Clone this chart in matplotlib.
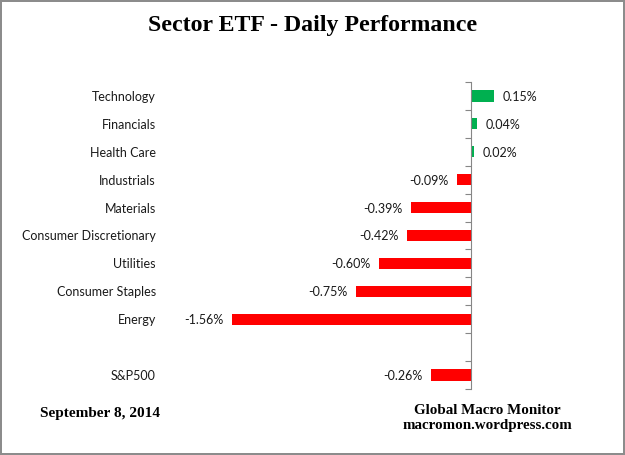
import numpy as np
import matplotlib
matplotlib.use("Agg")
import matplotlib.pyplot as plt

# data (percent change for the day)
sectors = ["Technology", "Financials", "Health Care", "Industrials", "Materials",
           "Consumer Discretionary", "Utilities", "Consumer Staples", "Energy"]
sector_changes = [0.15, 0.04, 0.02, -0.09, -0.39, -0.42, -0.60, -0.75, -1.56]
index_name = "S&P500"
index_change = -0.26

labels = sectors + ["", index_name]
values = sector_changes + [np.nan, index_change]
pos = np.arange(len(labels))

green = "#00B050"
red = "#FF0000"
axis_grey = "#868686"

fig = plt.figure(figsize=(6.25, 4.55), dpi=100)
fig.patch.set_edgecolor("#8c8c8c")
fig.patch.set_linewidth(1.5)

W, H = 625, 455
x_zero, px_per_pct = 471, 153.0
xmin, xmax = -2.0, 0.85
left_px = x_zero + xmin * px_per_pct
right_px = x_zero + xmax * px_per_pct
top_px, bot_px = 82, 389
ax = fig.add_axes([left_px / W, 1 - bot_px / H, (right_px - left_px) / W, (bot_px - top_px) / H])

vals = np.array(values, dtype=float)
colors = [green if v >= 0 else red for v in np.nan_to_num(vals)]
ax.barh(pos, np.nan_to_num(vals), height=0.4, color=colors, zorder=2)

ax.set_xlim(xmin, xmax)
ax.set_ylim(len(labels) - 0.5, -0.5)

# category axis drawn at zero, tick marks between categories pointing left
for name in ["top", "right", "bottom"]:
    ax.spines[name].set_visible(False)
ax.spines["left"].set_position(("data", 0))
ax.spines["left"].set_color(axis_grey)
ax.set_xticks([])
ax.set_yticks(np.arange(-0.5, len(labels), 1.0))
ax.set_yticklabels([])
ax.tick_params(axis="y", length=4, color=axis_grey, direction="out")

# category names sit at the left edge of the plot area
for p, name in zip(pos, labels):
    ax.annotate(name, (0, p), xycoords=ax.get_yaxis_transform(), xytext=(-6.5, 0),
                textcoords="offset points", ha="right", va="center_baseline",
                fontsize=9, family="Lato", color="#1a1a1a")

for p, v in zip(pos, vals):
    if np.isnan(v):
        continue
    off = 6 if v >= 0 else -6
    ax.annotate(f"{v:.2f}%", (v, p), xytext=(off, 0), textcoords="offset points",
                ha="left" if v >= 0 else "right", va="center_baseline",
                fontsize=9, family="Lato", color="#1a1a1a")

fig.text(0.5, 1 - 25 / H, "Sector ETF - Daily Performance", ha="center", va="center",
         family="Liberation Serif", fontweight="bold", fontsize=17.2)
fig.text(40 / W, 1 - 414 / H, "September 8, 2014", ha="left", va="center",
         family="Liberation Serif", fontweight="bold", fontsize=11)
fig.text(487 / W, 1 - 418 / H, "Global Macro Monitor\nmacromon.wordpress.com",
         ha="center", va="center", family="Liberation Serif", fontweight="bold",
         fontsize=10.8, linespacing=1.1)

fig.savefig("out.png", dpi=100, edgecolor=fig.get_edgecolor())
